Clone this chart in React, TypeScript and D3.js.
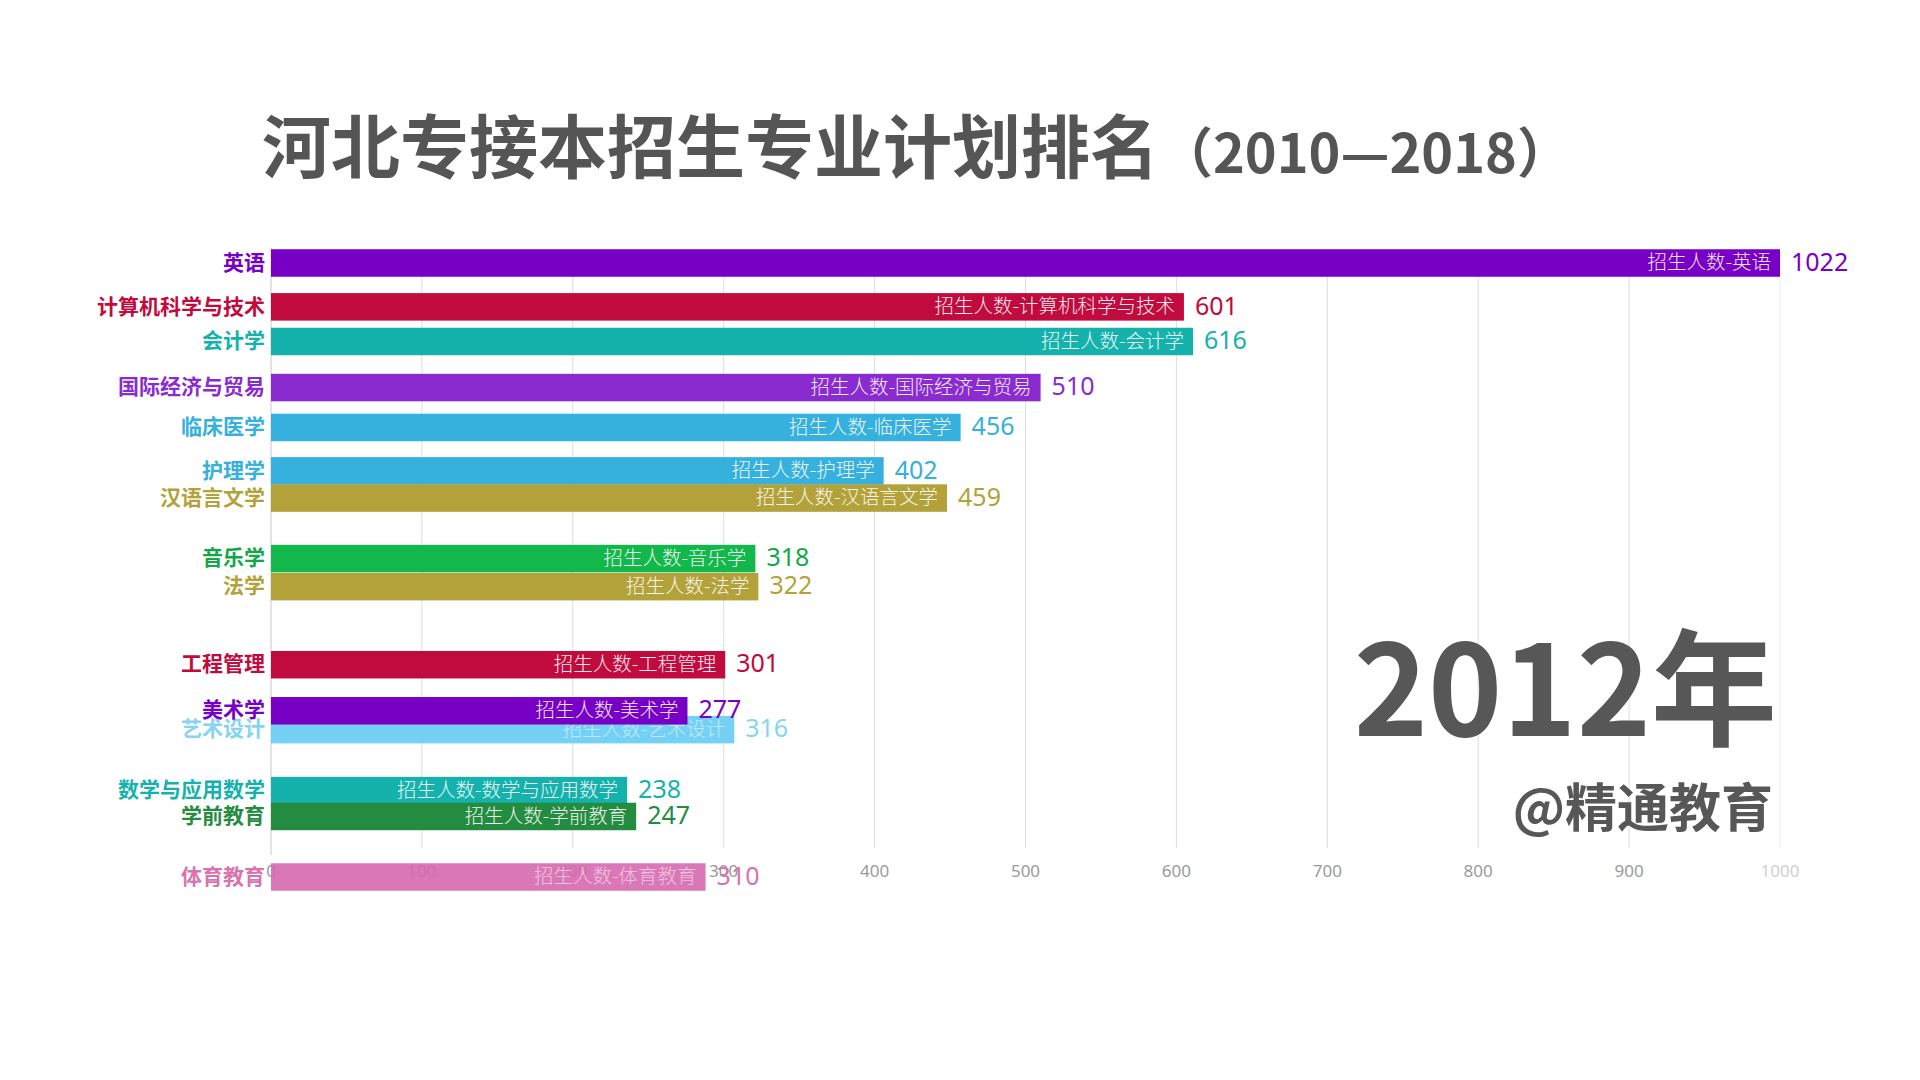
import React from "react";
import * as d3 from "d3";

const majors = [
  "英语",
  "计算机科学与技术",
  "会计学",
  "国际经济与贸易",
  "临床医学",
  "护理学",
  "汉语言文学",
  "音乐学",
  "法学",
  "工程管理",
  "艺术设计",
  "美术学",
  "数学与应用数学",
  "学前教育",
  "体育教育",
];
// value labels shown (target values of the 2012 frame)
const values = [1022, 601, 616, 510, 456, 402, 459, 318, 322, 301, 316, 277, 238, 247, 310];
// bar lengths at this mid-animation frame (still growing / shrinking)
const barValues = [1022, 605, 611, 510, 457, 406, 448, 321, 323, 301, 307, 276, 236, 242, 288];
// interpolated (mid-animation) rank positions of each bar
const ranks = [0, 1.0, 1.79, 2.84, 3.75, 4.74, 5.36, 6.74, 7.38, 9.16, 10.64, 10.21, 12.03, 12.62, 14];
const barColors = [
  "#7800c6",
  "#c10a3e",
  "#15b2ad",
  "#8a2bd0",
  "#36b0dc",
  "#36b0dc",
  "#b3a23a",
  "#12b84c",
  "#b3a23a",
  "#c10a3e",
  "#74d1f5",
  "#7800c6",
  "#15b2ad",
  "#238c40",
  "#d565ad",
];
const textColors = [
  "#7800c6",
  "#c10a3e",
  "#15b2ad",
  "#8a2bd0",
  "#36b0dc",
  "#36b0dc",
  "#b3a23a",
  "#12a84a",
  "#b3a23a",
  "#c10a3e",
  "#86d4f1",
  "#7800c6",
  "#15b2ad",
  "#238c40",
  "#d873b0",
];
const ticks = [0, 100, 200, 300, 400, 500, 600, 700, 800, 900, 1000];
const prefix = "招生人数-";
const title = "河北专接本招生专业计划排名";
const titleYears = "（2010—2018）";
const yearLabel = "2012年";
const watermark = "@精通教育";

export default function App() {
  const W = 1920;
  const H = 1080;
  const x = d3.scaleLinear().domain([0, 1000]).range([271, 1780]).clamp(true);
  const y = d3.scaleLinear().domain([0, 14]).range([263, 877]);
  const barH = 27.5;
  const cjk = '"Noto Sans CJK SC", "Noto Sans", sans-serif';
  const num = '"Noto Sans", "Open Sans", sans-serif';

  return (
    <svg
      width={W}
      height={H}
      viewBox={`0 0 ${W} ${H}`}
      style={{ position: "absolute", left: 0, top: 0, background: "#fff" }}
    >
      <rect x={0} y={0} width={W} height={H} fill="#fff" />
      {/* title */}
      <text x={262} y={173} fontFamily={cjk} fontWeight={700} fontSize={69} fill="#555">
        {title}
        <tspan fontSize={54}>{titleYears}</tspan>
      </text>

      {/* grid */}
      {ticks.map((t) => (
        <line
          key={"g" + t}
          x1={x(t)}
          x2={x(t)}
          y1={t === 0 ? 248 : 250}
          y2={t === 0 ? 855 : 848}
          stroke={t === 1000 ? "#eeeeee" : t === 0 ? "#c8c8c8" : "#dddddd"}
          strokeWidth={1}
        />
      ))}

      {/* year + watermark */}
      <text
        x={1777}
        y={736}
        textAnchor="end"
        fontFamily={cjk}
        fontWeight={700}
        fontSize={126}
        fill="#575757"
      >
        {yearLabel}
      </text>
      <text
        x={1773}
        y={827}
        textAnchor="end"
        fontFamily={cjk}
        fontWeight={700}
        fontSize={52}
        fill="#575757"
      >
        {watermark}
      </text>

      {/* tick labels */}
      {ticks.map((t) => (
        <text
          key={"t" + t}
          x={x(t)}
          y={872}
          textAnchor="middle"
          dominantBaseline="middle"
          fontFamily={num}
          fontSize={17}
          fill={t === 1000 ? "#d0d0d0" : "#9a9a9a"}
        >
          {t}
        </text>
      ))}

      {/* bars */}
      {majors.map((m, i) => {
        const cy = y(ranks[i]);
        const end = x(barValues[i]);
        const faded = m === "体育教育" || m === "艺术设计";
        return (
          <g key={m}>
            <rect
              x={x(0)}
              y={cy - barH / 2}
              width={end - x(0)}
              height={barH}
              fill={barColors[i]}
              opacity={m === "体育教育" ? 0.88 : 1}
            />
            <text
              x={end - 9}
              y={cy + 1}
              textAnchor="end"
              dominantBaseline="middle"
              fontFamily={cjk}
              fontWeight={300}
              fontSize={19.5}
              fill="#fff"
              opacity={faded ? 0.55 : 0.9}
            >
              {prefix + m}
            </text>
            <text
              x={end + 11}
              y={cy + 1}
              dominantBaseline="middle"
              fontFamily={num}
              fontSize={25}
              fill={textColors[i]}
            >
              {values[i]}
            </text>
            <text
              x={265}
              y={cy + 1}
              textAnchor="end"
              dominantBaseline="middle"
              fontFamily={cjk}
              fontWeight={700}
              fontSize={21}
              fill={textColors[i]}
            >
              {m}
            </text>
          </g>
        );
      })}
    </svg>
  );
}
